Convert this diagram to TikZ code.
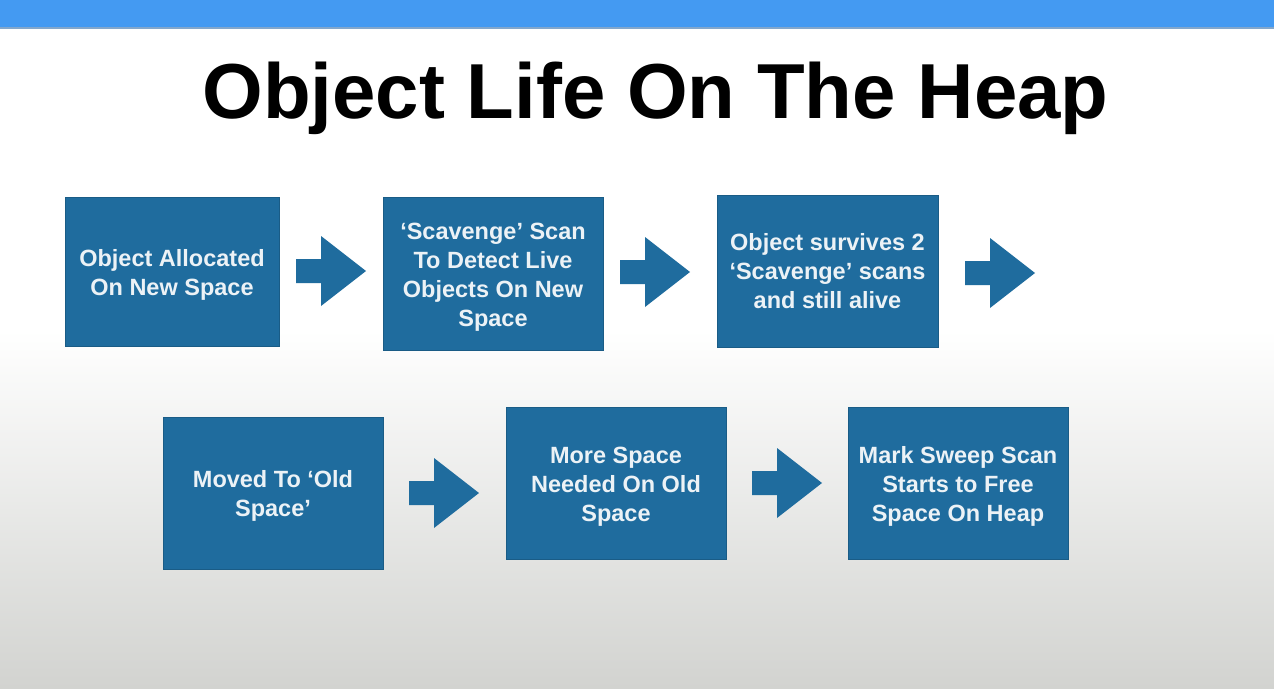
\documentclass[tikz,border=0pt]{standalone}
\usepackage{fontspec}
\setmainfont{Liberation Sans}
% centred block of lines, lowered a little inside its box (box size kept)
\newcommand{\steplines}[2][-3.5pt]{\raisebox{#1}[\height][\depth]{\begin{tabular}{@{}c@{}}#2\end{tabular}}}
\begin{document}
\begin{tikzpicture}[x=1pt,y=-1pt,
  stepbox/.style={fill=boxblue, draw=boxblue!85!black, line width=0.8pt,
    inner sep=0pt, align=center, text=boxtext,
    font=\fontsize{23.5}{29}\selectfont\bfseries},
  blockarrow/.pic={\fill[boxblue] (-35,-12) -- (-10,-12) -- (-10,-35) -- (35,0)
    -- (-10,35) -- (-10,12) -- (-35,12) -- cycle;}]
\definecolor{boxblue}{RGB}{31,108,158}
\definecolor{boxtext}{RGB}{236,242,246}
\definecolor{barblue}{RGB}{68,154,242}
\definecolor{floorgray}{RGB}{210,211,208}
% page and background
\useasboundingbox (0,0) rectangle (1274,688);
\fill[white] (0,0) rectangle (1274,688);
\shade[top color=white, bottom color=floorgray] (0,330) rectangle (1274,688);
\fill[barblue] (0,0) rectangle (1274,28);
\fill[barblue!70!black!60] (0,27) rectangle (1274,29);
% title
\node[anchor=base, font=\fontsize{78}{90}\selectfont\bfseries] (title) at (655.5,118) {Object Life On The Heap};
% first row
\node[stepbox, minimum width=214pt, minimum height=149pt] (s1) at (172,271.5) {\steplines{Object Allocated\\On New Space}};
\node[stepbox, minimum width=220pt, minimum height=153pt] (s2) at (493,273.5) {\steplines[-4pt]{‘Scavenge’ Scan\\To Detect Live\\Objects On New\\Space}};
\node[stepbox, minimum width=221pt, minimum height=152pt] (s3) at (827.5,271) {\steplines[-2.5pt]{Object survives 2\\‘Scavenge’ scans\\and still alive}};
% second row
\node[stepbox, minimum width=220pt, minimum height=152pt] (s4) at (273,493) {\steplines{Moved To ‘Old\\Space’}};
\node[stepbox, minimum width=220pt, minimum height=152pt] (s5) at (616,483) {\steplines[-4pt]{More Space\\Needed On Old\\Space}};
\node[stepbox, minimum width=220pt, minimum height=152pt] (s6) at (958,483) {\steplines[-3.5pt]{Mark Sweep Scan\\Starts to Free\\Space On Heap}};
% block arrows between the steps
\pic at (331,271) {blockarrow};
\pic at (655,272) {blockarrow};
\pic at (1000,273) {blockarrow};
\pic at (444,493) {blockarrow};
\pic at (787,483) {blockarrow};
\end{tikzpicture}
\end{document}
